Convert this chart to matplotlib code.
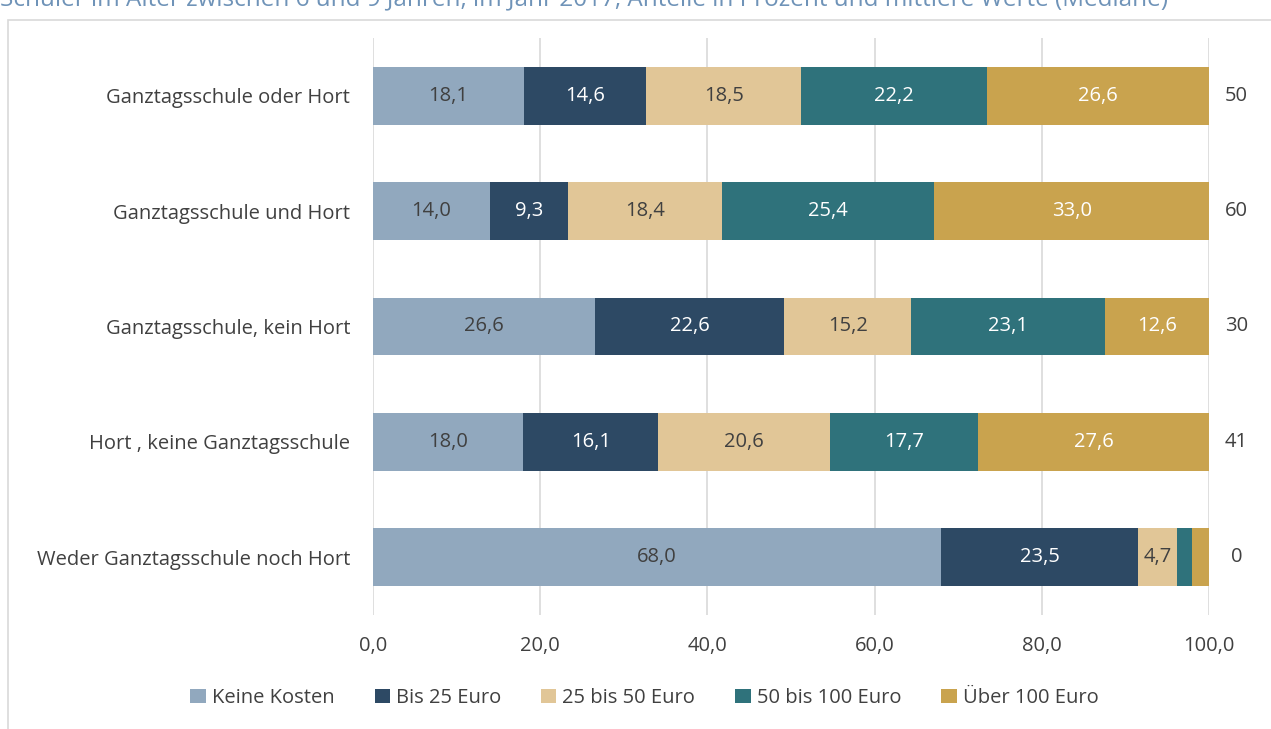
import matplotlib.pyplot as plt
from matplotlib.patches import Rectangle

plt.rcParams['font.family'] = ['Open Sans', 'DejaVu Sans']

categories = ['Ganztagsschule oder Hort', 'Ganztagsschule und Hort',
              'Ganztagsschule, kein Hort', 'Hort , keine Ganztagsschule',
              'Weder Ganztagsschule noch Hort']
series = ['Keine Kosten', 'Bis 25 Euro', '25 bis 50 Euro', '50 bis 100 Euro', 'Über 100 Euro']
keine = [18.1, 14.0, 26.6, 18.0, 68.0]
bis25 = [14.6, 9.3, 22.6, 16.1, 23.5]
b25_50 = [18.5, 18.4, 15.2, 20.6, 4.7]
b50_100 = [22.2, 25.4, 23.1, 17.7, 1.8]
ueber100 = [26.6, 33.0, 12.6, 27.6, 2.0]
medians = [50, 60, 30, 41, 0]
xticks = [0, 20, 40, 60, 80, 100]

colors = ['#91A8BE', '#2D4964', '#E1C697', '#2F727B', '#C9A34E']
text_colors = ['#404040', 'white', '#404040', 'white', 'white']
fs = 14.5

fig = plt.figure(figsize=(12.71, 7.29), dpi=100)
ax = fig.add_axes([373/1271, 1-615/729, 836/1271, 577/729])

values = [keine, bis25, b25_50, b50_100, ueber100]
left = [0.0] * len(categories)
for s, vals in enumerate(values):
    bars = ax.barh(range(len(categories)), vals, left=left, height=0.5,
                   color=colors[s], label=series[s], zorder=3)
    for i, v in enumerate(vals):
        if v >= 3:
            ax.text(left[i] + v / 2, i, f'{v:.1f}'.replace('.', ','),
                    ha='center', va='center', fontsize=fs,
                    color=text_colors[s], zorder=4)
    left = [l + v for l, v in zip(left, vals)]

for i, m in enumerate(medians):
    ax.text(103.3, i, str(m), ha='center', va='center', fontsize=fs,
            color='#404040', clip_on=False)

ax.set_xlim(0, 100)
ax.set_ylim(len(categories) - 0.5, -0.5)
ax.set_yticks(range(len(categories)))
ax.set_yticklabels(categories, fontsize=fs, color='#404040')
ax.set_xticks(xticks)
ax.set_xticklabels([f'{t:.1f}'.replace('.', ',') for t in xticks], fontsize=fs, color='#404040')
ax.tick_params(axis='both', length=0)
ax.tick_params(axis='y', pad=16.5)
ax.tick_params(axis='x', pad=15)
ax.grid(axis='x', color='#D9D9D9', linewidth=1.2, zorder=0)
for sp in ax.spines.values():
    sp.set_visible(False)

fig.legend(loc='center', bbox_to_anchor=(0.507, 1-698/729), ncol=5, frameon=False,
           fontsize=fs, handlelength=0.75, handleheight=0.75, handletextpad=0.3,
           columnspacing=2.0, labelcolor='#404040')

fig.patches.append(Rectangle((8/1271, -0.01), 1.1, 1-20/729+0.01, transform=fig.transFigure,
                             fill=False, edgecolor='#D9D9D9', linewidth=1.2))
fig.text(0.0, 1-5/729, 'Schüler im Alter zwischen 6 und 9 Jahren, im Jahr 2017, Anteile in Prozent und mittlere Werte (Mediane)',
         ha='left', va='baseline', fontsize=17.5, color='#6F93B8')

plt.savefig('out.png', dpi=100)
